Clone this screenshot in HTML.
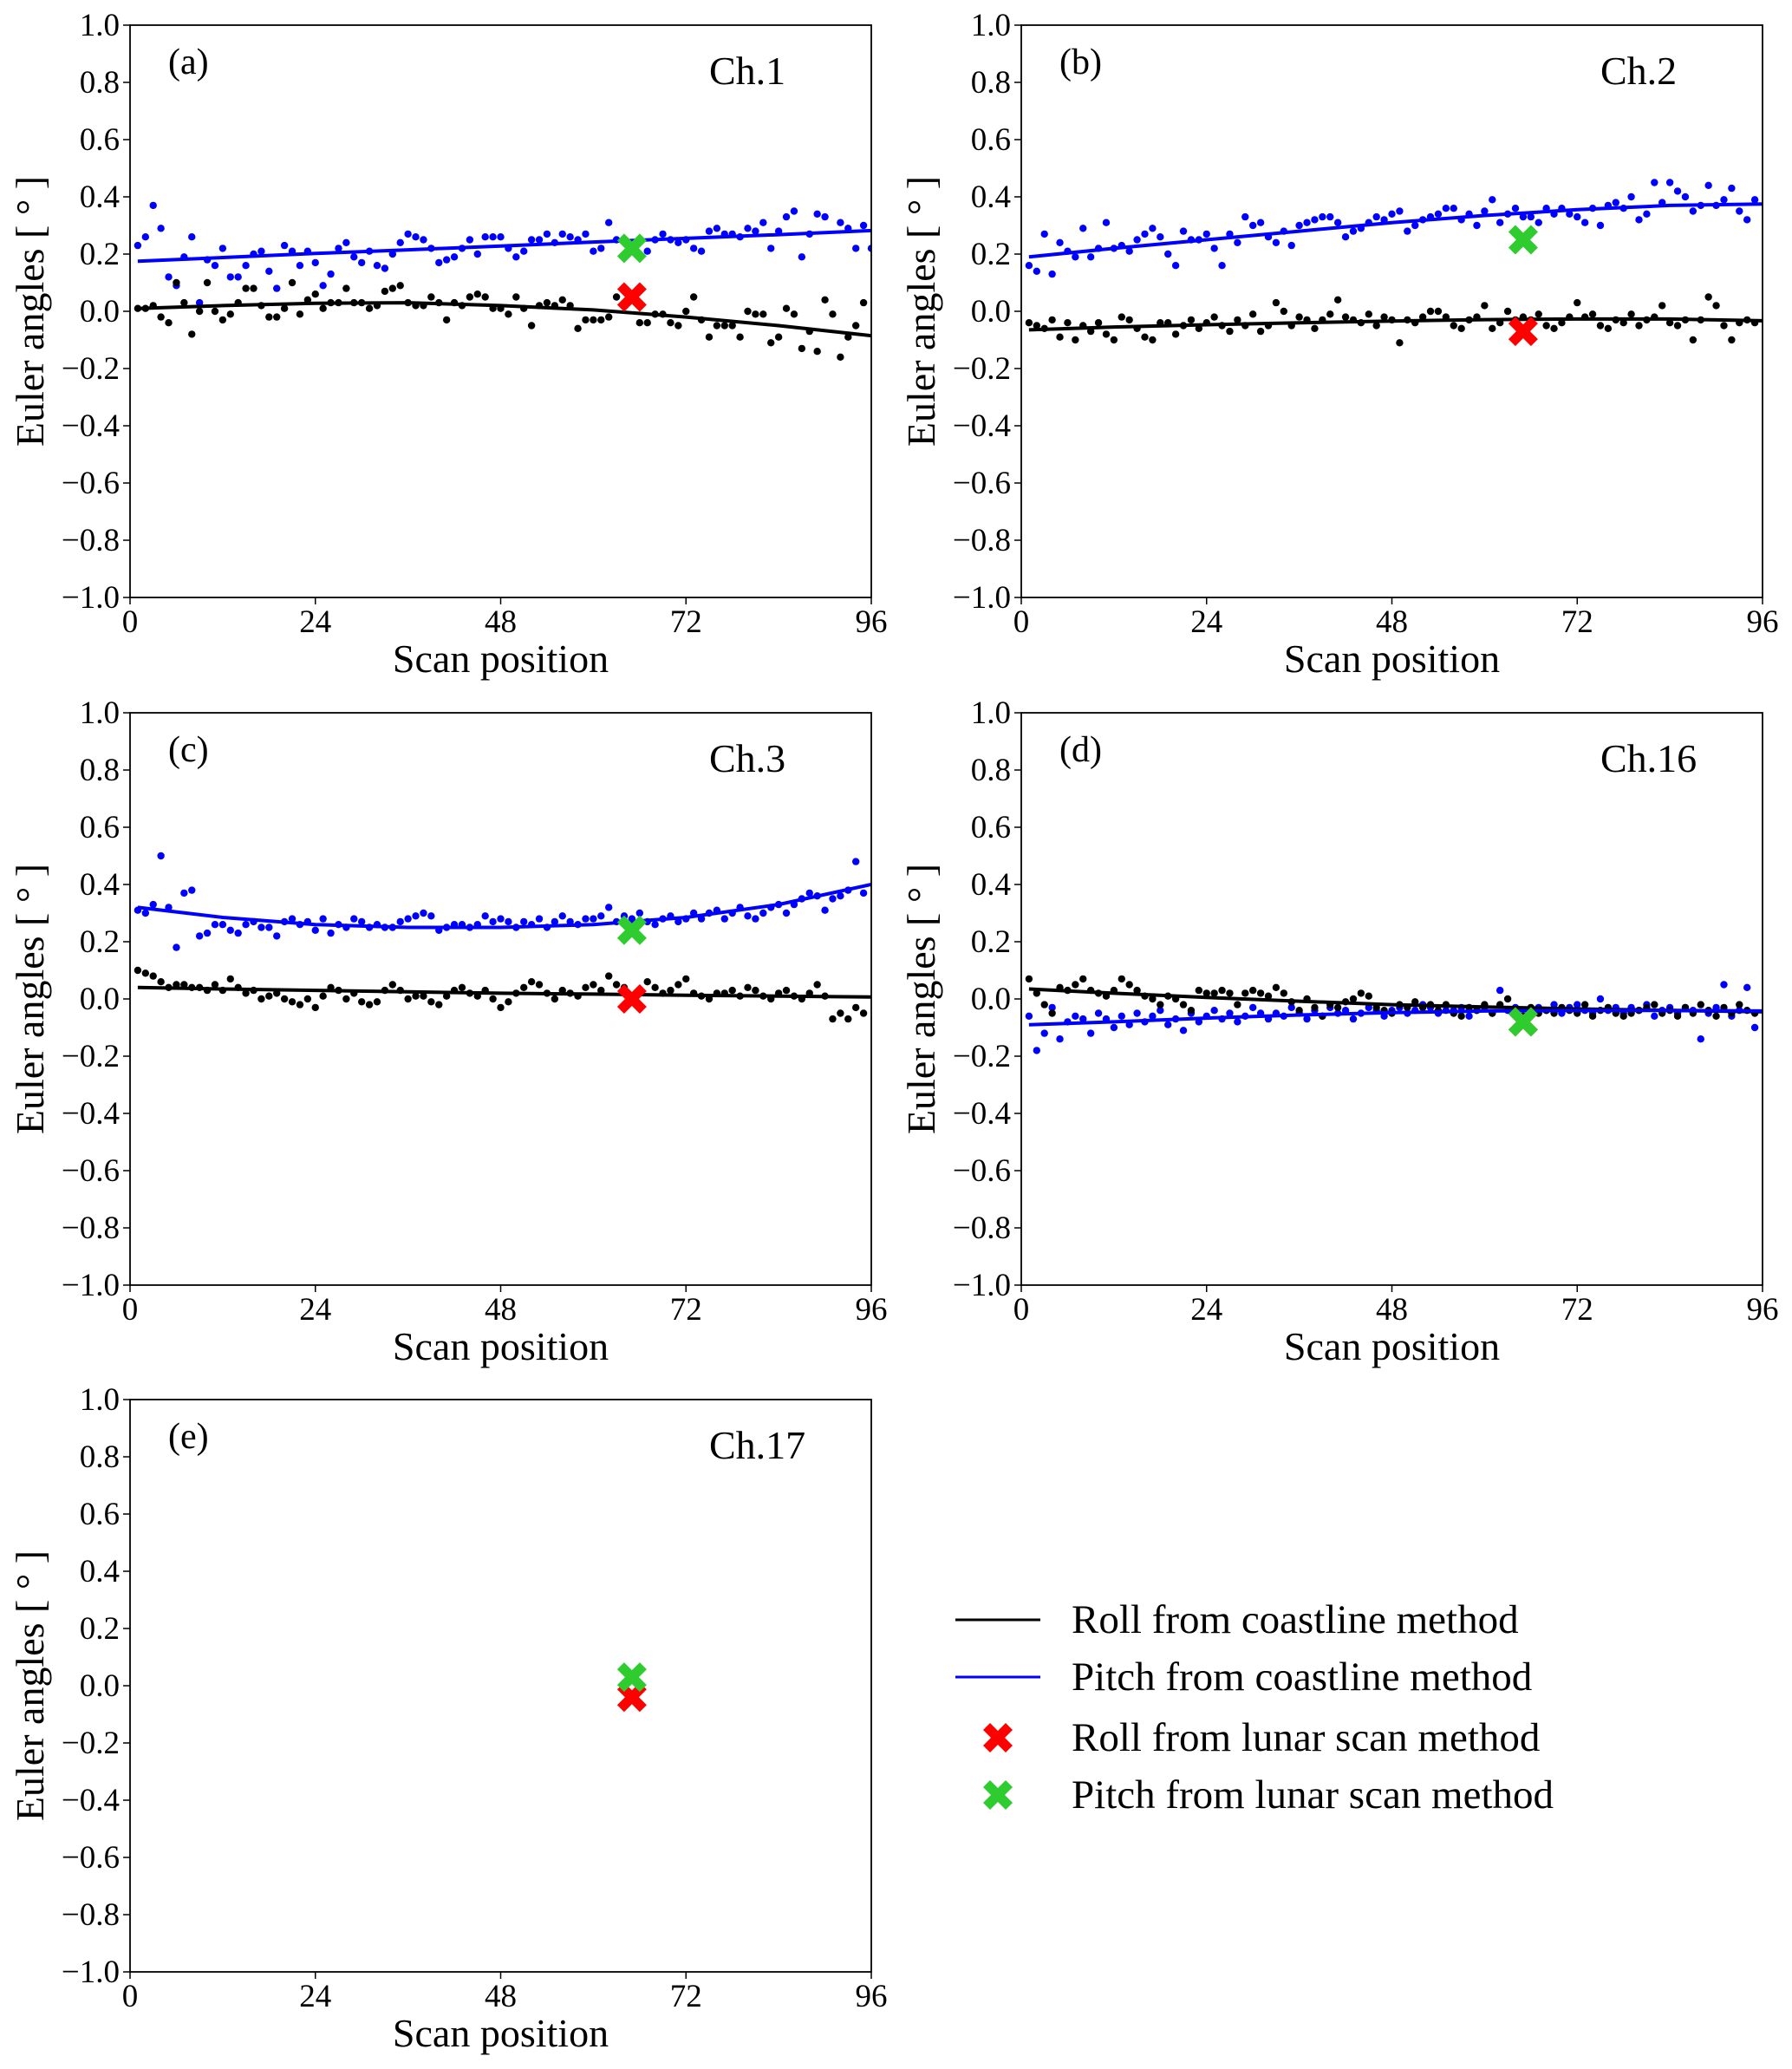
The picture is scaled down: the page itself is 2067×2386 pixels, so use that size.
<!DOCTYPE html>
<html><head><meta charset="utf-8"><style>
html,body{margin:0;padding:0;background:#fff;}
svg{display:block;font-family:"Liberation Serif",serif;}
svg text{font-family:"Liberation Serif",serif;}
</style></head><body>
<svg id="fig" width="2067" height="2386" viewBox="0 0 2067 2386" xmlns="http://www.w3.org/2000/svg"></svg>
<script>
const scanTicks=[0,24,48,72,96];
const angleTicks=[1.0,0.8,0.6,0.4,0.2,0.0,-0.2,-0.4,-0.6,-0.8,-1.0];
const fitX=[1,12,24,36,48,60,72,84,96];
const panelLetters=["(a)","(b)","(c)","(d)","(e)"];
const channelNames=["Ch.1","Ch.2","Ch.3","Ch.16","Ch.17"];
const lunarScanPos=[65,65,65,65,65];
const lunarRoll=[0.05,-0.07,0.0,-0.08,-0.04];
const lunarPitch=[0.22,0.25,0.24,-0.08,0.03];
const rollA=[0.01,0.01,0.02,-0.02,-0.04,0.1,0.03,-0.08,0.0,0.1,0.0,-0.03,-0.01,0.03,0.08,0.08,0.02,-0.02,-0.02,0.01,0.1,-0.01,0.04,0.06,0.01,0.03,0.03,0.08,0.03,0.03,0.01,0.02,0.07,0.08,0.09,0.03,0.02,0.02,0.05,0.03,-0.03,0.03,0.02,0.05,0.06,0.05,0.01,0.01,-0.01,0.05,0.01,-0.05,0.02,0.03,0.02,0.04,0.02,-0.06,-0.03,-0.03,-0.03,-0.02,0.05,0.02,null,-0.04,-0.04,-0.01,-0.01,-0.04,-0.05,0.0,0.05,-0.03,-0.09,-0.05,-0.05,-0.05,-0.09,0.0,-0.01,-0.01,-0.11,-0.09,0.01,-0.01,-0.13,-0.07,-0.14,0.04,-0.01,-0.16,-0.09,-0.05,0.03];
const pitchA=[0.23,0.26,0.37,0.29,0.12,0.09,0.19,0.26,0.03,0.18,0.16,0.22,0.12,0.12,0.16,0.2,0.21,0.14,0.08,0.23,0.21,0.16,0.21,0.17,0.09,0.13,0.22,0.24,0.19,0.17,0.21,0.16,0.15,0.2,0.24,0.27,0.26,0.25,0.22,0.17,0.18,0.19,0.22,0.25,0.2,0.26,0.26,0.26,0.22,0.19,0.21,0.25,0.25,0.27,0.24,0.27,0.26,0.25,0.27,0.21,0.22,0.31,0.25,0.25,null,null,0.21,0.25,0.27,0.25,0.24,0.25,0.22,0.21,0.28,0.29,0.27,0.27,0.26,0.29,0.28,0.31,0.22,0.28,0.33,0.35,0.19,0.27,0.34,0.33,null,0.31,0.29,0.22,0.3,0.22];
const rollB=[-0.04,-0.05,-0.06,-0.03,-0.09,-0.04,-0.1,-0.05,-0.07,-0.04,-0.08,-0.1,-0.02,-0.03,-0.06,-0.09,-0.1,-0.04,-0.04,-0.08,-0.05,-0.03,-0.06,-0.04,-0.02,-0.05,-0.07,-0.03,-0.05,-0.01,-0.07,-0.05,0.03,0.0,-0.05,-0.02,-0.03,-0.06,-0.03,-0.01,0.04,-0.02,-0.03,-0.04,-0.01,-0.05,-0.02,-0.03,-0.11,-0.03,-0.04,-0.02,0.0,0.0,-0.02,-0.05,-0.06,-0.03,-0.02,0.02,-0.06,-0.04,0.0,-0.03,-0.02,-0.03,-0.01,-0.05,-0.06,-0.04,-0.02,0.03,-0.02,-0.01,-0.05,-0.06,-0.03,-0.04,-0.01,-0.05,-0.03,-0.02,0.02,-0.04,-0.05,-0.03,-0.1,-0.03,0.05,0.02,-0.05,-0.1,-0.04,-0.03,-0.04];
const pitchB=[0.16,0.14,0.27,0.13,0.24,0.21,0.19,0.29,0.19,0.22,0.31,0.22,0.23,0.21,0.25,0.27,0.29,0.26,0.20,0.16,0.28,0.25,0.25,0.27,0.22,0.16,0.27,0.24,0.33,0.30,0.31,0.26,0.24,0.28,0.23,0.30,0.31,0.32,0.33,0.33,0.31,0.26,0.28,0.29,0.31,0.33,0.32,0.34,0.35,0.28,0.30,0.32,0.33,0.34,0.36,0.36,0.32,0.34,0.30,0.35,0.39,0.31,0.34,0.36,0.33,0.33,0.31,0.36,0.34,0.36,0.34,0.33,0.31,0.36,0.30,0.37,0.38,0.36,0.40,0.32,0.34,0.45,0.38,0.45,0.42,0.40,0.35,0.37,0.44,0.37,0.39,0.43,0.35,0.32,0.39];
const rollC=[0.1,0.09,0.08,0.06,0.04,0.05,0.05,0.04,0.04,0.03,0.05,0.03,0.07,0.04,0.02,0.03,0.0,0.01,0.02,0.0,-0.01,-0.02,0.0,-0.03,0.01,0.04,0.03,0.0,0.02,-0.01,-0.02,-0.01,0.03,0.05,0.03,0.0,0.01,0.01,-0.01,-0.02,0.01,0.03,0.04,0.02,0.01,0.03,0.0,-0.03,-0.01,0.02,0.04,0.06,0.05,0.02,0.0,0.03,0.02,0.01,0.04,0.05,0.03,0.08,0.05,0.04,0.01,0.03,0.06,0.04,0.02,0.03,0.05,0.07,0.02,0.01,0.0,0.02,0.02,0.03,0.01,0.04,0.03,0.01,0.0,0.02,0.03,0.01,0.0,0.02,0.05,0.01,-0.07,-0.05,-0.07,-0.03,-0.05];
const pitchC=[0.31,0.30,0.33,0.50,0.32,0.18,0.37,0.38,0.22,0.23,0.26,0.26,0.24,0.23,0.26,0.27,0.25,0.25,0.22,0.27,0.28,0.26,0.27,0.24,0.28,0.23,0.26,0.25,0.28,0.27,0.25,0.26,0.25,0.25,0.27,0.28,0.29,0.30,0.29,0.24,0.25,0.26,0.26,0.25,0.26,0.29,0.27,0.28,0.27,0.25,0.27,0.26,0.28,0.25,0.27,0.29,0.27,0.26,0.28,0.28,0.29,0.32,0.27,0.29,0.28,0.30,0.27,0.26,0.28,0.29,0.27,0.28,0.30,0.28,0.30,0.31,0.28,0.30,0.32,0.29,0.28,0.30,0.32,0.33,0.30,0.33,0.35,0.37,0.36,0.31,0.35,0.36,0.38,0.48,0.37];
const rollD=[0.07,0.02,-0.02,-0.05,0.04,0.03,0.05,0.07,0.03,0.02,0.01,0.03,0.07,0.05,0.03,0.01,0.0,-0.02,0.01,0.0,-0.02,-0.04,0.03,0.02,0.02,0.03,0.02,-0.02,0.02,0.03,0.02,0.01,0.04,0.02,-0.01,-0.04,0.0,-0.03,-0.06,-0.02,-0.03,-0.01,0.0,0.02,0.01,-0.03,-0.04,-0.05,-0.02,-0.03,-0.01,-0.03,-0.02,-0.04,-0.02,-0.05,-0.06,-0.03,-0.04,-0.02,-0.05,-0.02,0.0,-0.04,-0.06,-0.03,-0.05,-0.04,-0.05,-0.03,-0.04,-0.05,-0.02,-0.06,-0.04,-0.03,-0.05,-0.06,-0.05,-0.04,-0.03,-0.02,-0.05,-0.04,-0.06,-0.03,-0.05,-0.02,-0.04,-0.06,-0.03,-0.05,-0.02,-0.04,-0.05];
const pitchD=[-0.06,-0.18,-0.12,-0.03,-0.14,-0.08,-0.06,-0.07,-0.12,-0.05,-0.07,-0.1,-0.06,-0.09,-0.05,-0.08,-0.06,-0.04,-0.09,-0.07,-0.11,-0.05,-0.08,-0.06,-0.04,-0.07,-0.05,-0.08,-0.06,-0.03,-0.05,-0.07,-0.05,-0.06,-0.03,-0.05,-0.07,-0.04,-0.06,-0.03,-0.05,-0.04,-0.07,-0.05,-0.03,-0.04,-0.06,-0.04,-0.03,-0.05,-0.04,-0.02,-0.03,-0.05,-0.04,-0.04,-0.03,-0.06,-0.04,-0.03,-0.05,0.03,-0.04,-0.03,-0.06,-0.05,-0.03,-0.04,-0.02,-0.05,-0.03,-0.02,-0.04,-0.05,0.0,-0.04,-0.03,-0.05,-0.03,-0.04,-0.02,-0.06,-0.04,-0.03,-0.05,-0.03,-0.04,-0.14,-0.05,-0.03,0.05,-0.06,-0.04,0.04,-0.1];
const rollFitA=[0.01,0.02,0.028,0.03,0.02,0.005,-0.02,-0.05,-0.085];
const pitchFitA=[0.175,0.188,0.202,0.215,0.228,0.242,0.255,0.268,0.282];
const rollFitB=[-0.065,-0.055,-0.047,-0.04,-0.034,-0.029,-0.027,-0.027,-0.033];
const pitchFitB=[0.19,0.22,0.25,0.28,0.31,0.335,0.355,0.37,0.375];
const rollFitC=[0.04,0.035,0.03,0.025,0.02,0.017,0.013,0.01,0.007];
const pitchFitC=[0.32,0.285,0.26,0.25,0.25,0.26,0.285,0.33,0.40];
const rollFitD=[0.035,0.02,0.005,-0.008,-0.02,-0.028,-0.035,-0.04,-0.045];
const pitchFitD=[-0.09,-0.08,-0.067,-0.056,-0.048,-0.042,-0.04,-0.04,-0.042];
const legendLabels=["Roll from coastline method","Pitch from coastline method","Roll from lunar scan method","Pitch from lunar scan method"];

const NS="http://www.w3.org/2000/svg";
const svg=document.getElementById('fig');
function mk(tag,attrs,parent){const e=document.createElementNS(NS,tag);for(const k in attrs)e.setAttribute(k,attrs[k]);(parent||svg).appendChild(e);return e;}
const W=855,H=660;
const panels=[
 {x:150,y:29,roll:rollA,pitch:pitchA,rf:rollFitA,pf:pitchFitA},
 {x:1178,y:29,roll:rollB,pitch:pitchB,rf:rollFitB,pf:pitchFitB},
 {x:150,y:822,roll:rollC,pitch:pitchC,rf:rollFitC,pf:pitchFitC},
 {x:1178,y:822,roll:rollD,pitch:pitchD,rf:rollFitD,pf:pitchFitD},
 {x:150,y:1614,roll:null,pitch:null,rf:null,pf:null}];
function xMark(g,cx,cy,col){
 const s=17,t=8;
 const p=[[-s,-s+t],[-s+t,-s],[0,-t],[s-t,-s],[s,-s+t],[t,0],[s,s-t],[s-t,s],[0,t],[-s+t,s],[-s,s-t],[-t,0]].map(q=>(cx+q[0])+','+(cy+q[1])).join(' ');
 return mk('polygon',{points:p,fill:col},g);
}
panels.forEach((P,pi)=>{
 const g=mk('g',{});
 
 
 const sx=v=>P.x+v/96*W, sy=v=>P.y+(1-v)/2*H;
 angleTicks.forEach(v=>{
  mk('line',{x1:P.x-8,x2:P.x,y1:sy(v),y2:sy(v),stroke:'#000','stroke-width':1.5},g);
  const t=mk('text',{x:P.x-12,y:sy(v)+12,'text-anchor':'end','font-size':37},g);
  t.textContent=(v<0?'\u2212':'')+Math.abs(v).toFixed(1);
  
  
 });
 scanTicks.forEach(v=>{
  mk('line',{x1:sx(v),x2:sx(v),y1:P.y+H,y2:P.y+H+8,stroke:'#000','stroke-width':1.5},g);
  const t=mk('text',{x:sx(v),y:P.y+H+40,'text-anchor':'middle','font-size':37},g);
  t.textContent=v;
  
  
 });
 const xt=mk('text',{x:P.x+W/2,y:P.y+H+86,'text-anchor':'middle','font-size':46},g);
 xt.textContent='Scan position';
 
 
 const yt=mk('text',{x:0,y:0,'text-anchor':'middle','font-size':46,transform:`translate(${P.x-100},${P.y+H/2}) rotate(-90)`},g);
 yt.textContent='Euler angles [ \u00B0 ]';
 
 
 const lt=mk('text',{x:P.x+44,y:P.y+56,'font-size':42},g);
 lt.textContent=panelLetters[pi];
 
 
 const ct=mk('text',{x:P.x+668,y:P.y+68,'font-size':46},g);
 ct.textContent=channelNames[pi];
 
 
 const clipId='clip'+pi;
 const cp=mk('clipPath',{id:clipId},g);mk('rect',{x:P.x,y:P.y,width:W,height:H},cp);
 const dg=mk('g',{'clip-path':`url(#${clipId})`},g);
 [[P.pitch,'#0000ff','pitch-dot'],[P.roll,'#000','roll-dot']].forEach(([arr,col,nm])=>{
  if(!arr)return;
  arr.forEach((v,i)=>{if(v===null)return;
   const c=mk('circle',{cx:sx(i+1),cy:sy(v),r:4.2,fill:col},dg);
   
   
  });
 });
 [[P.rf,'#000','roll-fit-line'],[P.pf,'#0000ff','pitch-fit-line']].forEach(([arr,col,nm])=>{
  if(!arr)return;
  const d=arr.map((v,i)=>(i?'L':'M')+sx(fitX[i]).toFixed(1)+','+sy(v).toFixed(1)).join(' ');
  const l=mk('path',{d:d,fill:'none',stroke:col,'stroke-width':4},dg);
  
  
 });
 const rm=xMark(dg,sx(lunarScanPos[pi]),sy(lunarRoll[pi]),'#ff0000');
 
 
 const pm=xMark(dg,sx(lunarScanPos[pi]),sy(lunarPitch[pi]),'#2ecc2e');
 
 
 const fr=mk('rect',{x:P.x,y:P.y,width:W,height:H,fill:'none',stroke:'#000','stroke-width':1.8},g);
 
 
});
const lg=mk('g',{});


const ly=[1868,1934,2004,2070];
legendLabels.forEach((lab,i)=>{
 const y=ly[i];
 let sym;
 if(i===0) sym=mk('line',{x1:1102,x2:1200,y1:y,y2:y,stroke:'#000','stroke-width':3},lg);
 else if(i===1) sym=mk('line',{x1:1102,x2:1200,y1:y,y2:y,stroke:'#0000ff','stroke-width':3},lg);
 else sym=xMark(lg,1151,y,i===2?'#ff0000':'#2ecc2e');
 
 
 const t=mk('text',{x:1236,y:y+15,'font-size':47},lg);
 t.textContent=lab;
 
 
});
</script>
</body></html>
